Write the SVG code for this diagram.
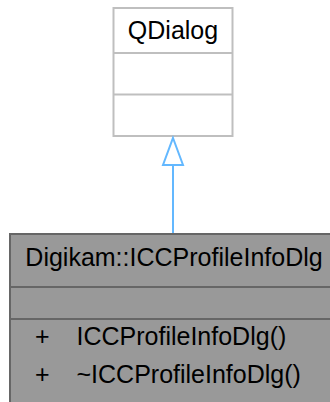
<svg xmlns="http://www.w3.org/2000/svg" width="330" height="402" viewBox="0 0 330 402">
<style>
text{font-family:"Liberation Sans",Arial,Helvetica,sans-serif;font-size:25px;fill:#000}
.base{fill:#fff;stroke:#bfbfbf;stroke-width:2}
.cur{fill:#999;stroke:#666;stroke-width:2}
.edge{fill:none;stroke:#63b8ff;stroke-width:2}
.head{fill:#fff;stroke:#63b8ff;stroke-width:2}
</style>
<g id="node-QDialog">
<rect class="base" x="113.5" y="8" width="119" height="128"/>
<line class="base" x1="113.5" y1="53" x2="232.5" y2="53"/>
<line class="base" x1="113.5" y1="94.5" x2="232.5" y2="94.5"/>
<text x="173" y="38.5" text-anchor="middle">QDialog</text>
</g>
<g id="connectors">
<line class="edge" x1="173" y1="233" x2="173" y2="165"/>
<path class="head" d="M173,138 L183,165 L163,165 Z"/>
</g>
<g id="node-ICCProfileInfoDlg">
<rect class="cur" x="10" y="234" width="330" height="180"/>
<line class="cur" x1="10" y1="287" x2="340" y2="287"/>
<line class="cur" x1="10" y1="319" x2="340" y2="319"/>
<text x="174" y="266" text-anchor="middle">Digikam::ICCProfileInfoDlg</text>
<text x="35" y="345">+</text>
<text x="76.5" y="345">ICCProfileInfoDlg()</text>
<text x="35" y="383">+</text>
<text x="76.5" y="383">~ICCProfileInfoDlg()</text>
</g>
</svg>
